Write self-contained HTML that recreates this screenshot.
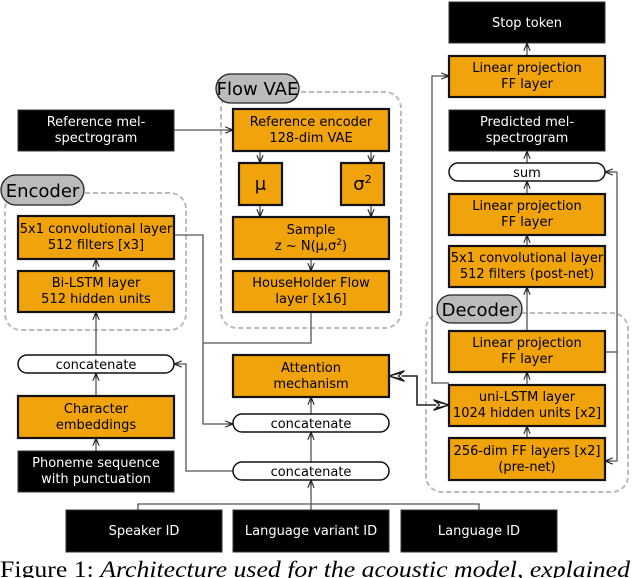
<!DOCTYPE html>
<html><head><meta charset="utf-8"><style>
html,body{margin:0;padding:0;background:#fff;width:632px;height:578px;overflow:hidden}
svg{display:block}
text{font-family:"DejaVu Sans","Liberation Sans",sans-serif;font-size:13px;text-anchor:middle}
.o{fill:#F0A30A;stroke:#111;stroke-width:2.2}
.b{fill:#000;stroke:#333;stroke-width:1}
.p{fill:#fff;stroke:#111;stroke-width:1.5}
.w{fill:#fff}
.d{fill:none;stroke:#bbb;stroke-width:2;stroke-dasharray:5,3}
.l{fill:none;stroke:#555;stroke-width:1.3}
.lb{fill:#bbb;stroke:#222;stroke-width:1.3}
</style></head><body>
<svg width="632" height="578" viewBox="0 0 632 578" xmlns="http://www.w3.org/2000/svg">
<defs>
<marker id="a" viewBox="0 0 10 10" refX="10" refY="5" markerWidth="6" markerHeight="6" orient="auto"><path d="M0,1 L10,5 L0,9 M3,5 L10,5" fill="none" stroke="#222" stroke-width="1.4"/></marker>
<marker id="A" viewBox="0 0 20 14" refX="20" refY="7" markerWidth="16" markerHeight="11" markerUnits="userSpaceOnUse" orient="auto-start-reverse"><path d="M0,0 L20,7 L0,14 L8,7 Z M4,3 L20,7 L4,11" fill="#fff" stroke="#111" stroke-width="1.4"/></marker>
</defs>

<rect class="d" x="221" y="92" width="180" height="236" rx="16"/>
<rect class="d" x="5" y="193" width="181" height="137" rx="16"/>
<rect class="d" x="426" y="313" width="202" height="179" rx="16"/>

<path class="l" d="M174,130 H233" marker-end="url(#a)"/>
<path class="l" d="M260,151 V163" marker-end="url(#a)"/>
<path class="l" d="M371,151 V163" marker-end="url(#a)"/>
<path class="l" d="M260,205 V217" marker-end="url(#a)"/>
<path class="l" d="M371,205 V217" marker-end="url(#a)"/>
<path class="l" d="M311,259 V271" marker-end="url(#a)"/>
<path class="l" d="M311,312 V343 H203"/>
<path class="l" d="M174,235 H203 V424 H233" marker-end="url(#a)"/>
<path class="l" d="M96,271 V259" marker-end="url(#a)"/>
<path class="l" d="M96,355 V312" marker-end="url(#a)"/>
<path class="l" d="M96,396 V373" marker-end="url(#a)"/>
<path class="l" d="M96,451 V438" marker-end="url(#a)"/>
<path class="l" d="M233,471 H186 V364 H174" marker-end="url(#a)"/>
<path class="l" d="M138,510 V504 H479 V510"/>
<path class="l" d="M311,510 V480" marker-end="url(#a)"/>
<path class="l" d="M311,462 V432" marker-end="url(#a)"/>
<path class="l" d="M311,414 V397" marker-end="url(#a)"/>
<path d="M389,376 H417 V405 H449" fill="none" stroke="#222" stroke-width="1.6" marker-start="url(#A)" marker-end="url(#A)"/>
<path class="l" d="M527,56 V43" marker-end="url(#a)"/>
<path class="l" d="M527,163 V151" marker-end="url(#a)"/>
<path class="l" d="M527,194 V181" marker-end="url(#a)"/>
<path class="l" d="M527,246 V235" marker-end="url(#a)"/>
<path class="l" d="M527,331 V287" marker-end="url(#a)"/>
<path class="l" d="M527,385 V372" marker-end="url(#a)"/>
<path class="l" d="M527,438 V426" marker-end="url(#a)"/>
<path class="l" d="M449,383 H432 V76 H449" marker-end="url(#a)"/>
<path class="l" d="M605,352 H617"/>
<path class="l" d="M617,172 V461 H605" marker-end="url(#a)"/>
<path class="l" d="M617,172 H605" marker-end="url(#a)"/>

<rect class="lb" x="216" y="74" width="83" height="29" rx="14.5"/>
<text x="257.5" y="95" style="font-size:18px">Flow VAE</text>
<rect class="lb" x="1" y="175" width="83" height="30" rx="15"/>
<text x="42.5" y="197" style="font-size:18px">Encoder</text>
<rect class="lb" x="437" y="295" width="85" height="28" rx="14"/>
<text x="479.5" y="316" style="font-size:18px">Decoder</text>

<rect class="b" x="449" y="2" width="156" height="41"/><text class="w" x="527" y="27">Stop token</text>
<rect class="b" x="449" y="110" width="156" height="41"/><text class="w" x="527" y="126">Predicted mel-</text><text class="w" x="527" y="142">spectrogram</text>
<rect class="b" x="18" y="110" width="156" height="41"/><text class="w" x="96" y="126">Reference mel-</text><text class="w" x="96" y="142">spectrogram</text>
<rect class="b" x="18" y="451" width="156" height="41"/><text class="w" x="96" y="467">Phoneme sequence</text><text class="w" x="96" y="483">with punctuation</text>
<rect class="b" x="66" y="510" width="156" height="42"/><text class="w" x="144" y="535">Speaker ID</text>
<rect class="b" x="233" y="510" width="156" height="42"/><text class="w" x="311" y="535">Language variant ID</text>
<rect class="b" x="401" y="510" width="156" height="42"/><text class="w" x="479" y="535">Language ID</text>

<rect class="o" x="449" y="56" width="156" height="41"/><text x="527" y="72">Linear projection</text><text x="527" y="88">FF layer</text>
<rect class="o" x="449" y="194" width="156" height="41"/><text x="527" y="210">Linear projection</text><text x="527" y="226">FF layer</text>
<rect class="o" x="449" y="246" width="156" height="41"/><text x="527" y="262">5x1 convolutional layer</text><text x="527" y="278">512 filters (post-net)</text>
<rect class="o" x="449" y="331" width="156" height="41"/><text x="527" y="347">Linear projection</text><text x="527" y="363">FF layer</text>
<rect class="o" x="449" y="385" width="156" height="41"/><text x="527" y="401">uni-LSTM layer</text><text x="527" y="417">1024 hidden units [x2]</text>
<rect class="o" x="449" y="438" width="156" height="42"/><text x="527" y="455">256-dim FF layers [x2]</text><text x="527" y="471">(pre-net)</text>
<rect class="o" x="233" y="109" width="156" height="42"/><text x="311" y="126">Reference encoder</text><text x="311" y="142">128-dim VAE</text>
<rect class="o" x="239" y="163" width="43" height="42"/><text x="260.5" y="190" style="font-size:18px">μ</text>
<rect class="o" x="341" y="163" width="43" height="42"/><text x="362.5" y="190" style="font-size:18px">σ<tspan dy="-7" style="font-size:11px">2</tspan></text>
<rect class="o" x="233" y="217" width="156" height="42"/><text x="311" y="234">Sample</text><text x="311" y="250">z ~ N(μ,σ<tspan dy="-5" style="font-size:9px">2</tspan><tspan dy="5">)</tspan></text>
<rect class="o" x="233" y="271" width="156" height="41"/><text x="311" y="287">HouseHolder Flow</text><text x="311" y="303">layer [x16]</text>
<rect class="o" x="18" y="216" width="156" height="43"/><text x="96" y="233">5x1 convolutional layer</text><text x="96" y="249">512 filters [x3]</text>
<rect class="o" x="18" y="271" width="156" height="41"/><text x="96" y="287">Bi-LSTM layer</text><text x="96" y="303">512 hidden units</text>
<rect class="o" x="18" y="396" width="156" height="42"/><text x="96" y="413">Character</text><text x="96" y="429">embeddings</text>
<rect class="o" x="233" y="355" width="156" height="42"/><text x="311" y="372">Attention</text><text x="311" y="388">mechanism</text>

<rect class="p" x="449" y="163" width="156" height="18" rx="9"/><text x="527" y="177">sum</text>
<rect class="p" x="18" y="355" width="156" height="18" rx="9"/><text x="96" y="369">concatenate</text>
<rect class="p" x="233" y="414" width="156" height="18" rx="9"/><text x="311" y="428">concatenate</text>
<rect class="p" x="233" y="462" width="156" height="18" rx="9"/><text x="311" y="476">concatenate</text>

<text x="0" y="577" textLength="630" lengthAdjust="spacingAndGlyphs" style="font-family:'Liberation Serif',serif;font-size:23px;text-anchor:start">Figure 1: <tspan font-style="italic">Architecture used for the acoustic model, explained</tspan></text>
</svg>
</body></html>
